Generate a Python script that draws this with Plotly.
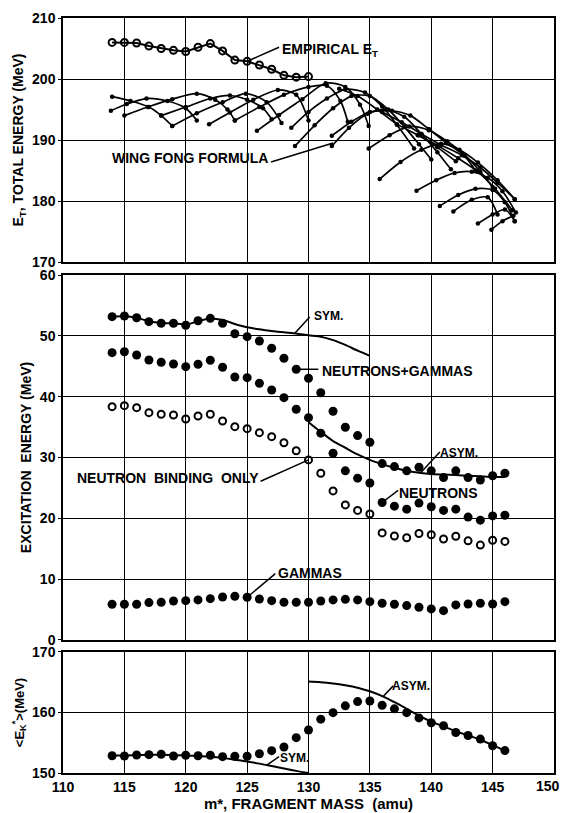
import plotly.graph_objects as go

FONT = "Liberation Sans"

# ---------------- data ----------------
masses = list(range(114, 147))
mass_ticks = [110, 115, 120, 125, 130, 135, 140, 145, 150]

# total energy panel
emp_mass = list(range(114, 131))
emp_et = [206.0, 206.0, 205.9, 205.4, 205.0, 204.7, 204.5, 205.2, 205.8, 204.6,
          203.1, 202.9, 202.3, 201.6, 200.6, 200.3, 200.4]

# Wing-Fong formula chains (mass, total energy)
wf_mass = [
    [114.0, 115.5, 117.0, 118.0, 118.9],
    [113.9, 115.2, 116.8, 118.5, 120.0, 120.9],
    [115.0, 116.9, 118.9, 120.9, 122.4, 123.4, 124.0],
    [118.0, 120.0, 122.0, 123.6, 125.0, 126.3, 127.0],
    [118.9, 120.9, 123.0, 124.9, 126.6, 127.8],
    [121.9, 123.6, 125.5, 127.5, 129.0, 130.0],
    [124.0, 126.0, 128.0, 130.0, 131.5, 132.6, 133.2],
    [125.8, 127.6, 129.5, 131.4, 133.0, 134.2, 134.9],
    [128.6, 130.0, 131.5, 133.0, 134.6, 136.0, 137.2, 138.6],
    [128.9, 130.5, 132.0, 133.5, 135.0, 136.5, 137.8, 139.0, 140.0],
    [131.9, 133.3, 134.8, 136.3, 137.8, 139.2, 140.5, 141.6],
    [131.9, 133.5, 135.0, 136.8, 138.3, 139.8, 141.2, 142.7, 143.6],
    [134.9, 136.6, 138.2, 139.8, 141.3, 142.7, 144.0, 145.0],
    [135.8, 137.5, 139.2, 140.8, 142.3, 143.8, 145.4, 146.8],
    [138.8, 140.4, 141.9, 143.3, 144.6, 145.8, 146.9],
    [140.7, 142.2, 143.6, 145.0, 146.0, 146.8],
    [141.8, 143.3, 144.6, 145.4],
    [143.8, 145.0, 146.0, 146.8],
    [144.9, 145.8, 146.7],
    [132.5, 134.0, 135.6, 137.2, 138.9, 140.5, 142.0],
    [136.0, 137.6, 139.2, 140.8, 142.5, 144.0, 145.4, 146.8],
    [139.0, 140.6, 142.2, 143.8, 145.2, 146.6],
]
wf_et = [
    [197.1, 196.4, 195.4, 194.0, 192.3],
    [194.8, 195.9, 196.8, 196.4, 195.2, 193.2],
    [194.0, 195.4, 196.7, 197.6, 196.6, 195.0, 193.2],
    [194.0, 195.4, 196.8, 197.3, 196.6, 195.2, 193.4],
    [192.3, 194.4, 196.2, 197.6, 196.2, 192.8],
    [192.6, 194.5, 196.6, 198.2, 197.4, 193.2],
    [193.2, 195.4, 197.4, 198.7, 198.9, 196.4, 193.0],
    [191.5, 194.1, 196.7, 199.3, 198.7, 195.8, 192.3],
    [192.0, 194.6, 196.8, 198.3, 197.8, 195.5, 192.5, 188.6],
    [189.0, 192.4, 195.2, 197.2, 197.2, 195.0, 192.2, 189.3, 186.8],
    [189.0, 192.0, 194.3, 195.0, 193.8, 191.0, 188.0, 185.2],
    [190.7, 193.0, 194.6, 194.8, 194.0, 191.8, 189.6, 187.4, 185.0],
    [188.6, 190.8, 192.2, 191.6, 189.8, 187.6, 184.8, 182.3],
    [183.6, 186.4, 188.4, 189.4, 188.4, 186.3, 183.4, 180.3],
    [181.7, 183.4, 184.6, 184.8, 183.8, 181.6, 178.1],
    [179.2, 181.0, 182.0, 181.8, 179.8, 176.7],
    [178.3, 180.2, 180.6, 177.8],
    [176.3, 177.8, 178.6, 176.7],
    [175.3, 176.7, 177.6],
    [198.4, 197.2, 195.0, 192.6, 190.8, 188.8, 186.5],
    [194.6, 192.9, 191.0, 189.2, 187.5, 185.5, 183.0, 180.3],
    [190.8, 189.0, 187.0, 184.8, 182.0, 178.5],
]

# excitation energy panel
ng_exc = [53.15, 53.26, 52.98, 52.33, 52.06, 52.06, 51.73, 52.48, 52.88, 52.06,
          50.35, 49.86, 49.15, 47.95, 46.31, 44.50, 43.02, 40.65, 37.6, 34.97,
          33.6, 32.5, 29.0, 28.5, 27.8, 28.4, 27.8, 26.7, 27.8, 26.7, 26.3, 27.0, 27.4]
n_exc = [47.23, 47.39, 46.85, 46.03, 45.65, 45.37, 44.93, 45.32, 45.98, 44.83,
         43.24, 43.12, 42.20, 41.10, 39.83, 37.93, 36.55, 34.0, 30.7, 27.8,
         26.6, 25.8, 22.6, 22.0, 21.5, 22.5, 21.9, 21.3, 21.5, 20.2, 19.7, 20.4, 20.5]
nb_exc = [38.35, 38.52, 38.19, 37.37, 37.10, 36.99, 36.33, 36.82, 37.10, 36.00,
          35.07, 34.74, 34.08, 33.42, 32.43, 31.1, 29.6, 27.4, 24.5, 22.2,
          21.3, 20.7, 17.6, 17.1, 16.8, 17.5, 17.3, 16.6, 17.05, 16.3, 15.6, 16.4, 16.2]
g_exc = [5.87, 5.87, 5.87, 6.14, 6.2, 6.41, 6.46, 6.58, 6.79, 7.07,
         7.18, 7.02, 6.74, 6.46, 6.2, 6.2, 6.2, 6.41, 6.58, 6.68,
         6.58, 6.3, 6.03, 5.87, 5.65, 5.37, 5.1, 4.82, 5.76, 5.92, 6.03, 5.92, 6.3]
sym_mass = list(range(114, 136))
sym_exc = [53.15, 53.2, 52.95, 52.4, 52.1, 52.05, 51.85, 52.4, 52.85, 52.6, 51.95,
           51.4, 51.07, 50.8, 50.58, 50.4, 50.1, 49.86, 49.3, 48.5, 47.56, 46.7]
asym_mass = list(range(130, 147))
asym_exc = [35.8, 34.2, 32.7, 31.6, 30.5, 29.6, 28.9, 28.3, 27.8, 27.5, 27.3,
            27.2, 27.1, 27.0, 26.9, 26.8, 26.8]

# mean kinetic energy panel
ek = [152.86, 152.81, 152.98, 153.03, 153.09, 152.81, 152.93, 152.86, 152.93, 152.70,
      152.76, 152.76, 153.19, 153.69, 154.30, 155.84, 157.11, 158.9, 159.97, 161.1,
      161.8, 161.9, 161.2, 160.6, 159.97, 159.1, 158.3, 157.8, 156.7, 156.2, 155.6,
      154.5, 153.7]
ek_sym_mass = list(range(114, 131))
ek_sym = [152.9, 152.9, 152.95, 153.0, 153.0, 152.95, 152.9, 152.8, 152.7, 152.5,
          152.2, 151.9, 151.55, 151.15, 150.75, 150.35, 150.0]
ek_asym_mass = list(range(130, 147))
ek_asym = [165.1, 165.0, 164.8, 164.5, 164.1, 163.5, 162.7, 161.7, 160.6, 159.5,
           158.5, 157.7, 156.9, 156.2, 155.5, 154.6, 153.7]

# ---------------- figure ----------------
fig = go.Figure()
BLACK = "black"

# Wing-Fong chains
for xs, ys in zip(wf_mass, wf_et):
    fig.add_trace(go.Scatter(x=xs, y=ys, mode="lines+markers", xaxis="x", yaxis="y",
                             line=dict(color=BLACK, width=1.7, shape="spline", smoothing=0.8),
                             marker=dict(color=BLACK, size=4.5)))

# empirical total energy
fig.add_trace(go.Scatter(x=emp_mass, y=emp_et, mode="lines+markers", xaxis="x", yaxis="y",
                         line=dict(color=BLACK, width=2),
                         marker=dict(symbol="circle-open", color=BLACK, size=7,
                                     line=dict(width=2))))

# excitation energies
fig.add_trace(go.Scatter(x=sym_mass, y=sym_exc, mode="lines", xaxis="x2", yaxis="y2",
                         line=dict(color=BLACK, width=2, shape="spline", smoothing=0.6)))
fig.add_trace(go.Scatter(x=asym_mass, y=asym_exc, mode="lines", xaxis="x2", yaxis="y2",
                         line=dict(color=BLACK, width=2, shape="spline", smoothing=0.6)))
for vals in (ng_exc, n_exc, g_exc):
    fig.add_trace(go.Scatter(x=masses, y=vals, mode="markers", xaxis="x2", yaxis="y2",
                             marker=dict(color=BLACK, size=9)))
fig.add_trace(go.Scatter(x=masses, y=nb_exc, mode="markers", xaxis="x2", yaxis="y2",
                         marker=dict(symbol="circle-open", color=BLACK, size=7,
                                     line=dict(width=2))))

# kinetic energy
fig.add_trace(go.Scatter(x=ek_sym_mass, y=ek_sym, mode="lines", xaxis="x3", yaxis="y3",
                         line=dict(color=BLACK, width=2, shape="spline")))
fig.add_trace(go.Scatter(x=ek_asym_mass, y=ek_asym, mode="lines", xaxis="x3", yaxis="y3",
                         line=dict(color=BLACK, width=2, shape="spline")))
fig.add_trace(go.Scatter(x=masses, y=ek, mode="markers", xaxis="x3", yaxis="y3",
                         marker=dict(color=BLACK, size=9)))

# ---------------- labels with leader lines ----------------
def leader(xr, yr, x0, y0, x1, y1):
    fig.add_shape(type="line", xref=xr, yref=yr, x0=x0, y0=y0, x1=x1, y1=y1,
                  line=dict(color=BLACK, width=1.5))

def label(xr, yr, x, y, text, anchor="left", size=14):
    fig.add_annotation(xref=xr, yref=yr, x=x, y=y, text=text, showarrow=False,
                       xanchor=anchor, yanchor="middle",
                       font=dict(family=FONT, size=size, color=BLACK, weight="bold"))

i125 = emp_mass.index(125)
leader("x", "y", 125, emp_et[i125], 127.6, 205.2)
label("x", "y", 127.7, 204.7, "EMPIRICAL E<sub>T</sub>")
leader("x", "y", 126.95, 186.4, 132.0, 189.5)
label("x", "y", 126.9, 187.0, "WING FONG FORMULA", anchor="right")

leader("x2", "y2", 128.9, 50.45, 130.1, 53.1)
label("x2", "y2", 130.3, 53.3, "SYM.", size=12)
i129 = masses.index(129)
leader("x2", "y2", 129, ng_exc[i129], 130.8, ng_exc[i129])
label("x2", "y2", 130.9, 44.2, "NEUTRONS+GAMMAS")
i130 = masses.index(130)
leader("x2", "y2", 130, nb_exc[i130], 126.1, 26.1)
label("x2", "y2", 126.1, 26.6, "NEUTRON  BINDING  ONLY", anchor="right")
i136 = masses.index(136)
leader("x2", "y2", 136, n_exc[i136], 137.3, 24.6)
label("x2", "y2", 137.2, 24.2, "NEUTRONS")
leader("x2", "y2", 139.1, 27.4, 140.7, 30.9)
label("x2", "y2", 140.55, 30.8, "ASYM.", size=12)
i125m = masses.index(125)
leader("x2", "y2", 125, g_exc[i125m], 127.3, 10.9)
label("x2", "y2", 127.35, 11.0, "GAMMAS")

leader("x3", "y3", 126.6, 151.3, 127.6, 152.7)
label("x3", "y3", 127.5, 152.5, "SYM.", size=12)
leader("x3", "y3", 136.1, 162.7, 136.9, 164.4)
label("x3", "y3", 136.65, 164.3, "ASYM.", size=12)

# ---------------- axes ----------------
tickfont = dict(family=FONT, size=14, color=BLACK, weight="bold")

# the last mass tick sits on the page edge, so it is right-aligned there
fig.add_annotation(xref="paper", yref="paper", x=1 + 8 / 491, y=0, yanchor="top",
                   xanchor="right", yshift=-3, showarrow=False,
                   text=str(mass_ticks[-1]), font=tickfont)

def xaxis(anchor, show_labels):
    return dict(domain=[0, 1], range=[110, 150], anchor=anchor,
                tickvals=mass_ticks[:-1],
                showgrid=True, gridcolor=BLACK, gridwidth=1, zeroline=False,
                showline=True, linecolor=BLACK, linewidth=1.5, mirror=True,
                showticklabels=show_labels, ticks="", tickfont=tickfont,
                automargin=False)

def yaxis(domain, rng, anchor, title, size, standoff):
    return dict(domain=domain, range=rng, anchor=anchor, dtick=10,
                showgrid=True, gridcolor=BLACK, gridwidth=1, zeroline=False,
                showline=True, linecolor=BLACK, linewidth=1.5, mirror=True,
                ticks="outside", ticklen=3, tickcolor=BLACK, tickfont=tickfont,
                automargin=False,
                title=dict(text=title, font=dict(family=FONT, size=size, color=BLACK,
                                                 weight="bold"),
                           standoff=standoff))

fig.update_layout(
    width=562, height=813,
    margin=dict(l=63, r=8, t=18, b=40, autoexpand=False),
    paper_bgcolor="white", plot_bgcolor="white",
    showlegend=False,
    xaxis=xaxis("y", False),
    xaxis2=dict(xaxis("y2", False), matches="x"),
    xaxis3=dict(xaxis("y3", True), matches="x",
                title=dict(text="m*, FRAGMENT MASS&nbsp;&nbsp;(amu)",
                           font=dict(family=FONT, size=15, color=BLACK, weight="bold"),
                           standoff=2)),
    yaxis=yaxis([0.6768, 1.0], [170, 210], "x", "E<sub>T</sub>, TOTAL ENERGY (MeV)", 14, 5),
    yaxis2=yaxis([0.1762, 0.6596], [0, 60], "x2", "EXCITATION&nbsp;&nbsp;ENERGY (MeV)", 14, 5),
    yaxis3=yaxis([0.0, 0.1603], [150, 170], "x3", "&lt;E<sub>K</sub><sup>*</sup>&gt;(MeV)", 13, 5),
)

fig.write_html("out.html")
